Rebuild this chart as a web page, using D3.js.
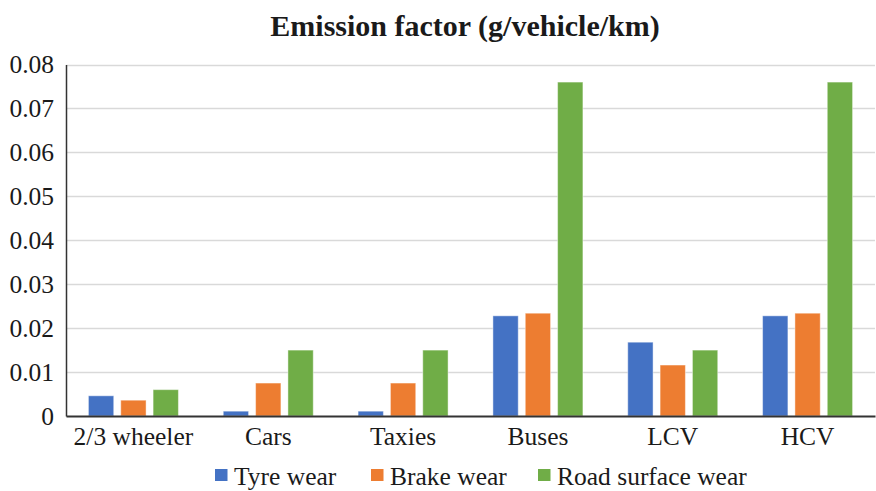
<!DOCTYPE html>
<html>
<head>
<meta charset="utf-8">
<script src="https://cdn.jsdelivr.net/npm/d3@7"></script>
<style>
  html, body { margin: 0; padding: 0; background: #fff; }
  svg { display: block; }
  text { font-family: "Liberation Serif", "Times New Roman", serif; fill: #1a1a1a; }
</style>
</head>
<body>
<svg id="chart" width="876" height="491"></svg>
<script>
// Vehicle categories and emission factors (g/vehicle/km)
const categories = ["2/3 wheeler", "Cars", "Taxies", "Buses", "LCV", "HCV"];
const seriesNames = ["Tyre wear", "Brake wear", "Road surface wear"];
const tyreWear = [0.0046, 0.0011, 0.0011, 0.0228, 0.0168, 0.0228];
const brakeWear = [0.0036, 0.0075, 0.0075, 0.0234, 0.0116, 0.0234];
const roadSurfaceWear = [0.006, 0.015, 0.015, 0.076, 0.015, 0.076];
const yTicks = [0, 0.01, 0.02, 0.03, 0.04, 0.05, 0.06, 0.07, 0.08];
const colors = ["#4472C4", "#ED7D31", "#70AD47"];

const seriesValues = [tyreWear, brakeWear, roadSurfaceWear];

const svg = d3.select("#chart");
const margin = { left: 66, right: 1, top: 64.5 };
const width = 876;
const plotBottom = 416;
const labelFont = "25.5px";

const x = d3.scaleBand()
  .domain(categories)
  .range([margin.left, width - margin.right])
  .paddingInner(0)
  .paddingOuter(0);

const x1 = d3.scaleBand()
  .domain(seriesNames)
  .range([0, 90])
  .paddingInner(0.217)
  .paddingOuter(0);

const y = d3.scaleLinear()
  .domain([0, 0.08])
  .range([plotBottom, margin.top]);

// Title
svg.append("text")
  .attr("x", 465)
  .attr("y", 36)
  .attr("text-anchor", "middle")
  .style("font-size", "30px")
  .style("font-weight", "bold")
  .text("Emission factor (g/vehicle/km)");

// Horizontal gridlines
svg.append("g")
  .selectAll("line")
  .data(yTicks.filter(d => d > 0))
  .join("line")
  .attr("x1", margin.left)
  .attr("x2", width - margin.right)
  .attr("y1", d => Math.round(y(d)) + 0.5)
  .attr("y2", d => Math.round(y(d)) + 0.5)
  .attr("stroke", "#d9d9d9")
  .attr("stroke-width", 1.3);

// Y axis labels
const yAxis = d3.axisLeft(y)
  .tickValues(yTicks)
  .tickSize(0)
  .tickPadding(12)
  .tickFormat(d => d === 0 ? "0" : d3.format(".2f")(d));

const gy = svg.append("g")
  .attr("transform", `translate(${margin.left},0)`)
  .call(yAxis);
gy.select(".domain").attr("stroke", "#333").attr("stroke-width", 1.5);
gy.selectAll("text")
  .style("font-family", "'Liberation Serif', 'Times New Roman', serif")
  .style("font-size", labelFont)
  .attr("fill", "#1a1a1a");

// Bars
const groups = svg.append("g")
  .selectAll("g")
  .data(categories)
  .join("g")
  .attr("transform", d => `translate(${x(d) + x.bandwidth() / 2 - 45},0)`);

groups.selectAll("rect")
  .data((d, i) => seriesNames.map((s, k) => ({ s, k, v: seriesValues[k][i] })))
  .join("rect")
  .attr("x", d => x1(d.s))
  .attr("width", x1.bandwidth())
  .attr("y", d => y(d.v))
  .attr("height", d => plotBottom - y(d.v))
  .attr("fill", d => colors[d.k])
  .attr("stroke", "#ffffff")
  .attr("stroke-opacity", 0.45)
  .attr("stroke-width", 1);

// X axis (baseline and category labels)
const xAxis = d3.axisBottom(x).tickSize(0).tickPadding(11);
const gx = svg.append("g")
  .attr("transform", `translate(0,${plotBottom})`)
  .call(xAxis);
gx.select(".domain").attr("stroke", "#333").attr("stroke-width", 2);
gx.selectAll("text")
  .style("font-family", "'Liberation Serif', 'Times New Roman', serif")
  .style("font-size", labelFont)
  .attr("fill", "#1a1a1a");

// Legend
const legendX = [215, 371, 538];
const legend = svg.append("g")
  .selectAll("g")
  .data(seriesNames)
  .join("g")
  .attr("transform", (d, i) => `translate(${legendX[i]},469)`);
legend.append("rect")
  .attr("width", 12.5)
  .attr("height", 12)
  .attr("fill", (d, i) => colors[i]);
legend.append("text")
  .attr("x", 19)
  .attr("y", 16)
  .style("font-size", labelFont)
  .text(d => d);
</script>
</body>
</html>
